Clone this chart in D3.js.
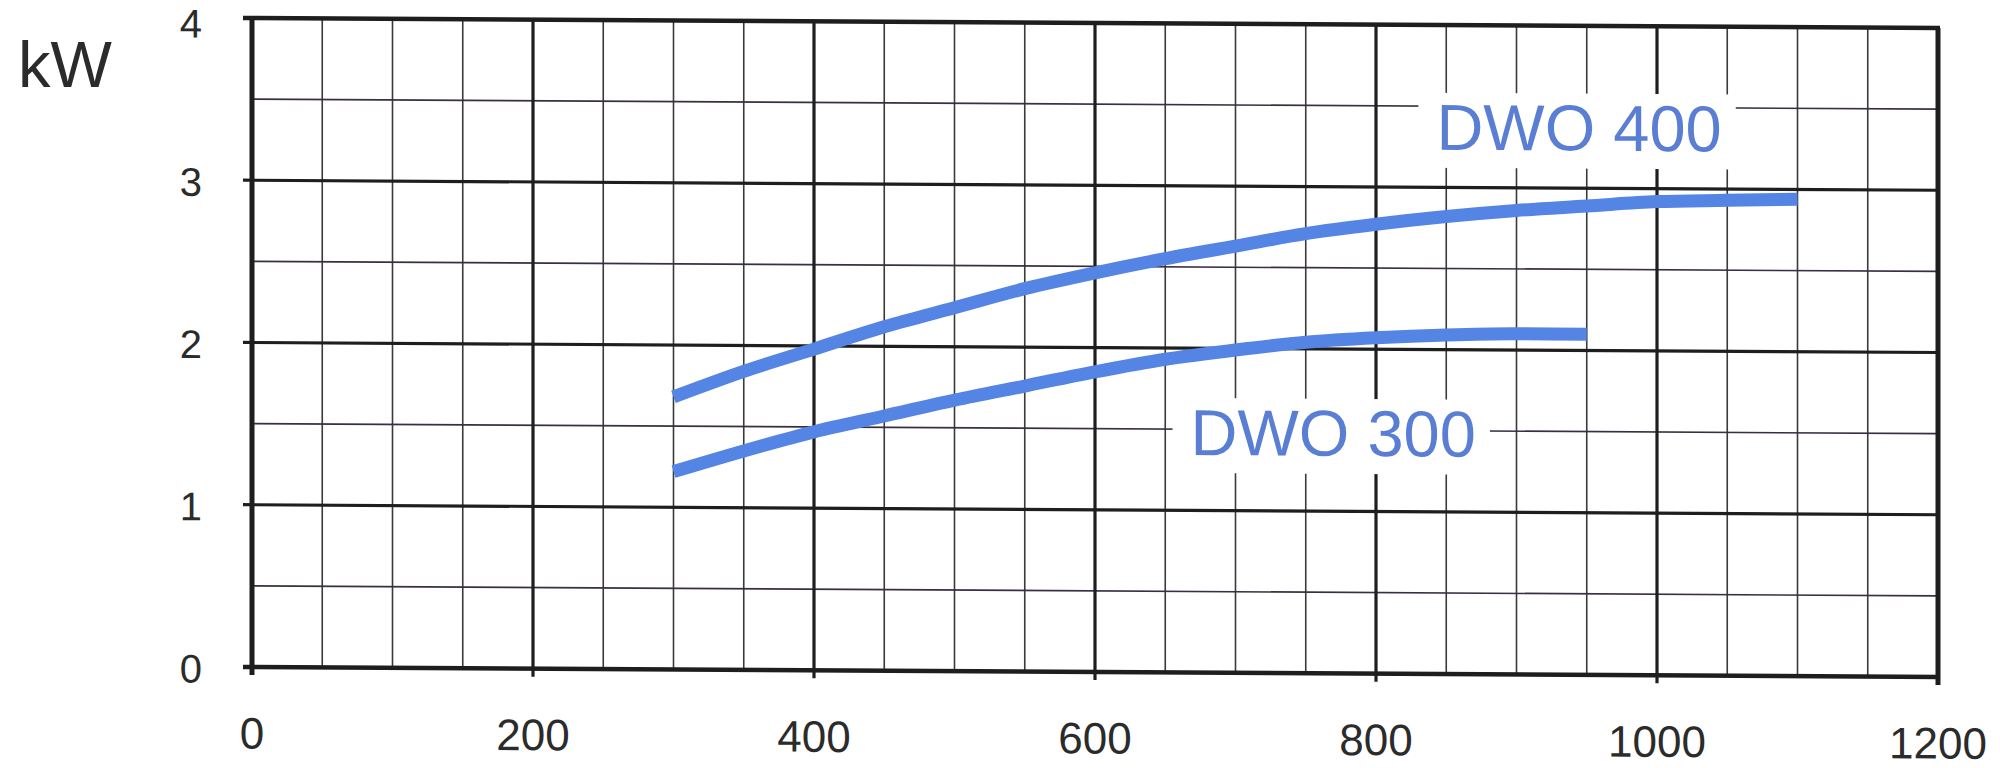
<!DOCTYPE html>
<html>
<head>
<meta charset="utf-8">
<script src="https://d3js.org/d3.v7.min.js"></script>
<style>
    body {
        margin: 0;
        background-color: white;
        font-family: "Liberation Sans", Arial, sans-serif;
    }

    svg {
        display: block;
    }

    .tick-label {
        fill: #2b2b2b;
        font-size: 40px;
    }

    .series-label {
        fill: #5a7ed4;
        font-size: 65px;
    }
</style>
</head>
<body>
<svg></svg>
<script>
    // flow (x) and power (kW)
    const flowTicks = [0, 200, 400, 600, 800, 1000, 1200];
    const kwTicks = [0, 1, 2, 3, 4];

    const dwo400Flow = [300, 350, 400, 450, 500, 550, 600, 650, 700, 750, 800, 850, 900, 950, 1000, 1050, 1100];
    const dwo400Kw = [1.68, 1.84, 1.98, 2.12, 2.24, 2.36, 2.46, 2.55, 2.63, 2.71, 2.77, 2.82, 2.86, 2.89, 2.92, 2.93, 2.94];

    const dwo300Flow = [300, 350, 400, 450, 500, 550, 600, 650, 700, 750, 800, 850, 900, 950];
    const dwo300Kw = [1.22, 1.35, 1.47, 1.57, 1.67, 1.76, 1.85, 1.93, 1.99, 2.04, 2.07, 2.09, 2.1, 2.1];

    const labelNames = ["DWO 400", "DWO 300"];
    const labelFlow = [843, 668];
    const labelKw = [3.37, 1.48];

    function createVis() {
        let width = 2000;
        let height = 768;
        let plotW = 1686;
        let plotH = 649;

        let svg = d3.select("svg")
            .attr("width", width)
            .attr("height", height);

        svg.append("rect")
            .attr("width", width)
            .attr("height", height)
            .attr("fill", "white");

        // unit label
        svg.append("text")
            .attr("class", "tick-label")
            .attr("x", 18)
            .attr("y", 87)
            .style("font-size", "65px")
            .text("kW");

        // the scan is skewed a little, right side sits lower
        let g = svg.append("g")
            .attr("transform", "translate(252,18) skewY(0.34)");

        let x = d3.scaleLinear()
            .domain([0, 1200])
            .range([0, plotW]);
        let y = d3.scaleLinear()
            .domain([0, 4])
            .range([plotH, 0]);

        // minor grid every 50 / 0.5
        g.selectAll(".vminor")
            .data(x.ticks(24))
            .join("line")
            .attr("class", "vminor")
            .attr("x1", d => x(d))
            .attr("x2", d => x(d))
            .attr("y1", 0)
            .attr("y2", plotH)
            .attr("stroke", "#3a3a3a")
            .attr("stroke-width", 1.6);

        g.selectAll(".hminor")
            .data(y.ticks(8))
            .join("line")
            .attr("class", "hminor")
            .attr("x1", 0)
            .attr("x2", plotW)
            .attr("y1", d => y(d))
            .attr("y2", d => y(d))
            .attr("stroke", "#3a2f40")
            .attr("stroke-width", 1.6);

        // major grid, sticking out a bit like ticks
        g.selectAll(".vmajor")
            .data(flowTicks)
            .join("line")
            .attr("class", "vmajor")
            .attr("x1", d => x(d))
            .attr("x2", d => x(d))
            .attr("y1", 0)
            .attr("y2", plotH + 8)
            .attr("stroke", "#1e1e1e")
            .attr("stroke-width", d => (d === 0 || d === 1200) ? 5 : 3.2);

        g.selectAll(".hmajor")
            .data(kwTicks)
            .join("line")
            .attr("class", "hmajor")
            .attr("x1", -9)
            .attr("x2", plotW + 2)
            .attr("y1", d => y(d))
            .attr("y2", d => y(d))
            .attr("stroke", "#1e1e1e")
            .attr("stroke-width", d => (d === 0 || d === 4) ? 4.5 : 3.2);

        // tick labels
        g.selectAll(".xlab")
            .data(flowTicks)
            .join("text")
            .attr("class", "tick-label")
            .attr("x", d => x(d))
            .attr("y", plotH + 66)
            .attr("text-anchor", "middle")
            .attr("dominant-baseline", "central")
            .style("font-size", "44px")
            .text(d => d);

        // top label would poke out of the page, keep it just inside
        g.selectAll(".ylab")
            .data(kwTicks)
            .join("text")
            .attr("class", "tick-label")
            .attr("x", -50)
            .attr("y", d => Math.max(y(d) + 2, 6))
            .attr("text-anchor", "end")
            .attr("dominant-baseline", "central")
            .text(d => d);

        // series labels on white patches that cut the grid
        let labels = labelNames.map((name, i) => ({name: name, x: labelFlow[i], y: labelKw[i]}));
        let labelG = g.selectAll(".lab")
            .data(labels)
            .join("g")
            .attr("class", "lab");
        labelG.append("rect").attr("fill", "white");
        labelG.append("text")
            .attr("class", "series-label")
            .attr("x", d => x(d.x))
            .attr("y", d => y(d.y))
            .attr("dominant-baseline", "central")
            .text(d => d.name);
        labelG.each(function () {
            let box = d3.select(this).select("text").node().getBBox();
            d3.select(this).select("rect")
                .attr("x", box.x - 18)
                .attr("y", box.y + 2)
                .attr("width", box.width + 32)
                .attr("height", box.height + 2);
        });

        // curves
        let line = d3.line()
            .x(d => x(d[0]))
            .y(d => y(d[1]))
            .curve(d3.curveMonotoneX);

        let series = [
            d3.zip(dwo400Flow, dwo400Kw),
            d3.zip(dwo300Flow, dwo300Kw)
        ];
        g.selectAll(".curve")
            .data(series)
            .join("path")
            .attr("class", "curve")
            .attr("d", d => line(d))
            .attr("fill", "none")
            .attr("stroke", "#5484e4")
            .attr("stroke-width", 13)
            .attr("stroke-linecap", "butt");
    }
    createVis();
</script>
</body>
</html>
